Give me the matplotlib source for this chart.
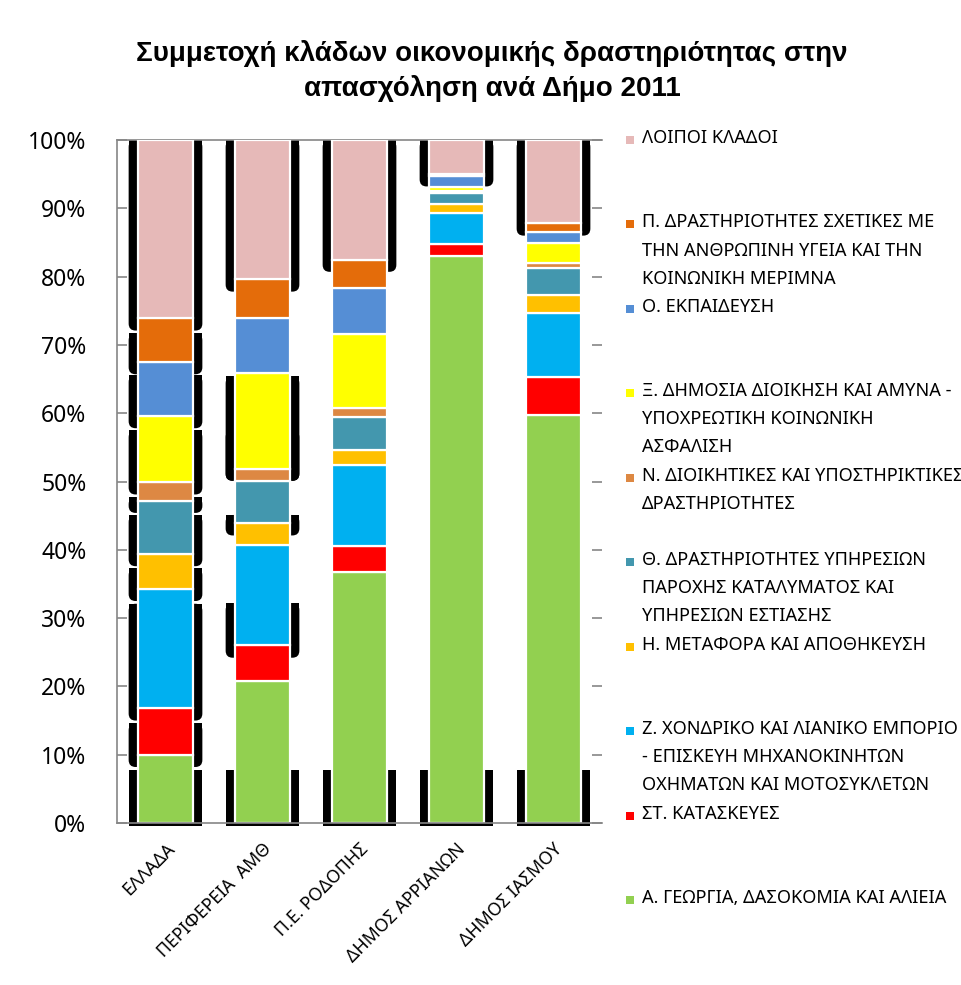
import matplotlib
matplotlib.use("Agg")
import matplotlib.pyplot as plt
from matplotlib.patches import FancyBboxPatch, Rectangle
import numpy as np

plt.rcParams['font.family'] = ['Noto Sans', 'DejaVu Sans']

# ---------------- data ----------------
categories = ["ΕΛΛΑΔΑ", "ΠΕΡΙΦΕΡΕΙΑ  ΑΜΘ", "Π.Ε. ΡΟΔΟΠΗΣ", "ΔΗΜΟΣ ΑΡΡΙΑΝΩΝ", "ΔΗΜΟΣ ΙΑΣΜΟΥ"]

series_names = [
    "Α. ΓΕΩΡΓΙΑ, ΔΑΣΟΚΟΜΙΑ ΚΑΙ ΑΛΙΕΙΑ",
    "ΣΤ. ΚΑΤΑΣΚΕΥΕΣ",
    "Ζ. ΧΟΝΔΡΙΚΟ ΚΑΙ ΛΙΑΝΙΚΟ ΕΜΠΟΡΙΟ\n- ΕΠΙΣΚΕΥΗ ΜΗΧΑΝΟΚΙΝΗΤΩΝ\nΟΧΗΜΑΤΩΝ ΚΑΙ ΜΟΤΟΣΥΚΛΕΤΩΝ",
    "Η. ΜΕΤΑΦΟΡΑ ΚΑΙ ΑΠΟΘΗΚΕΥΣΗ",
    "Θ. ΔΡΑΣΤΗΡΙΟΤΗΤΕΣ ΥΠΗΡΕΣΙΩΝ\nΠΑΡΟΧΗΣ ΚΑΤΑΛΥΜΑΤΟΣ ΚΑΙ\nΥΠΗΡΕΣΙΩΝ ΕΣΤΙΑΣΗΣ",
    "Ν. ΔΙΟΙΚΗΤΙΚΕΣ ΚΑΙ ΥΠΟΣΤΗΡΙΚΤΙΚΕΣ\nΔΡΑΣΤΗΡΙΟΤΗΤΕΣ",
    "Ξ. ΔΗΜΟΣΙΑ ΔΙΟΙΚΗΣΗ ΚΑΙ ΑΜΥΝΑ -\nΥΠΟΧΡΕΩΤΙΚΗ ΚΟΙΝΩΝΙΚΗ\nΑΣΦΑΛΙΣΗ",
    "Ο. ΕΚΠΑΙΔΕΥΣΗ",
    "Π. ΔΡΑΣΤΗΡΙΟΤΗΤΕΣ ΣΧΕΤΙΚΕΣ ΜΕ\nΤΗΝ ΑΝΘΡΩΠΙΝΗ ΥΓΕΙΑ ΚΑΙ ΤΗΝ\nΚΟΙΝΩΝΙΚΗ ΜΕΡΙΜΝΑ",
    "ΛΟΙΠΟΙ ΚΛΑΔΟΙ",
]

# shares (%) per category, one list per sector (bottom -> top)
agriculture    = [10.0, 20.8, 36.7, 83.0, 59.8]
construction   = [6.8, 5.2, 3.9, 1.8, 5.5]
trade          = [17.5, 14.7, 11.8, 4.5, 9.4]
transport      = [5.1, 3.2, 2.2, 1.4, 2.6]
accommodation  = [7.8, 6.2, 4.8, 1.6, 4.0]
administrative = [2.7, 1.8, 1.3, 0.2, 0.7]
public_admin   = [9.7, 14.0, 10.9, 0.6, 2.9]
education      = [7.9, 8.1, 6.8, 1.6, 1.6]
health         = [6.4, 5.6, 4.1, 0.3, 1.3]
other          = [26.1, 20.4, 17.5, 5.0, 12.2]

series_values = [agriculture, construction, trade, transport, accommodation,
                 administrative, public_admin, education, health, other]

colors = ["#92D050", "#FF0000", "#00B0F0", "#FFC000", "#4397AE",
          "#DD8843", "#FFFF00", "#558ED5", "#E46C0A", "#E6B9B8"]

# where the (rendering-artifact) black shadow bands begin, per category (%)
shadow_start = [
    [100, 71.7, 65.6, 57.5, 47.7, 45.1, 37.3, 32.1, 14.6, 7.8],
    [100, 65.4, 57.5, 45.1, 32.2, 7.8],
    [100, 7.8],
    [100, 7.8],
    [100, 7.8],
]
shadow_offset = 1.8

yticks = [0, 10, 20, 30, 40, 50, 60, 70, 80, 90, 100]
ytick_labels = [f"{v}%" for v in yticks]
title = "Συμμετοχή κλάδων οικονομικής δραστηριότητας στην\nαπασχόληση ανά Δήμο 2011"

# ---------------- figure ----------------
W, H = 962, 985
fig = plt.figure(figsize=(W / 100, H / 100), dpi=100)
ax_l, ax_r, ax_t, ax_b = 117, 602, 140, 823
ax = fig.add_axes([ax_l / W, 1 - ax_b / H, (ax_r - ax_l) / W, (ax_b - ax_t) / H])

x = np.arange(len(categories))
ax.set_xlim(-0.5, len(categories) - 0.5)
ax.set_ylim(0, 100)

bar_w = 0.56
shadow_w = 0.76

vals = np.array(series_values, dtype=float)
cum_top = np.cumsum(vals, axis=0)
cum_bot = cum_top - vals

px_per_x = (ax_r - ax_l) / len(categories)
px_per_y = (ax_b - ax_t) / 100.0
rad_px = 7
rad_x = rad_px / px_per_x
rad_y = rad_px / px_per_y
aspect = px_per_x / px_per_y

for i in range(len(categories)):
    sb = cum_bot[:, i] - shadow_offset
    st = cum_top[:, i] - shadow_offset
    for s in shadow_start[i]:
        k = None
        for j in range(len(sb)):
            if sb[j] < s <= st[j] + shadow_offset + 0.01:
                k = j
                break
        if k is None:
            continue
        end = sb[k]
        if end < 0:
            ax.add_patch(Rectangle((x[i] - shadow_w / 2, -0.45), shadow_w, s + 0.45,
                                   facecolor="black", edgecolor="none", zorder=1,
                                   clip_on=False))
            continue
        # rounded bottom + flat top
        ax.add_patch(FancyBboxPatch((x[i] - shadow_w / 2, end), shadow_w, s - end,
                                    boxstyle=f"round,pad=0,rounding_size={rad_x}",
                                    mutation_aspect=aspect,
                                    facecolor="black", edgecolor="none", zorder=1))
        if s - end > rad_y:
            mid = end + min(rad_y, (s - end) / 2)
            ax.add_patch(Rectangle((x[i] - shadow_w / 2, mid), shadow_w, s - mid,
                                   facecolor="black", edgecolor="none", zorder=1))

bottom = np.zeros(len(categories))
for vals_s, c in zip(series_values, colors):
    ax.bar(x, vals_s, bar_w, bottom=bottom, color=c, edgecolor="white",
           linewidth=1.6, zorder=3)
    bottom += np.array(vals_s)

# axes styling
grey = "#868686"
for side in ["left", "bottom", "top"]:
    ax.spines[side].set_color(grey)
    ax.spines[side].set_linewidth(1.2)
ax.spines["right"].set_visible(False)
ax.spines["bottom"].set_zorder(5)
ax.set_yticks(yticks)
ax.set_yticklabels(ytick_labels, fontsize=16.5)
ax.tick_params(axis="y", direction="in", length=7, width=1.2, color=grey,
               right=True, pad=22)
ax.tick_params(axis="x", length=0, pad=12)
ax.set_xticks(x)
ax.set_xticklabels(categories, rotation=45, ha="right", va="top",
                   rotation_mode="anchor", fontsize=12.8)

# title
fig.text(492 / W, 1 - 71 / H, title, ha="center", va="center",
         fontsize=20, fontweight="bold", linespacing=1.42,
         family=["Liberation Sans", "DejaVu Sans"])

# legend (top entry = last series)
leg_top = 140
leg_step = (900 - 140) / 9
for n, idx in enumerate(range(len(series_names) - 1, -1, -1)):
    yc = leg_top + n * leg_step
    fig.patches.append(Rectangle((626 / W, 1 - (yc + 4) / H), 8 / W, 8 / H,
                                 transform=fig.transFigure, facecolor=colors[idx],
                                 edgecolor="none"))
    fig.text(642 / W, 1 - (yc - 11) / H, series_names[idx], ha="left", va="top",
             fontsize=13.1, linespacing=1.72)

fig.savefig("out.png", dpi=100)
